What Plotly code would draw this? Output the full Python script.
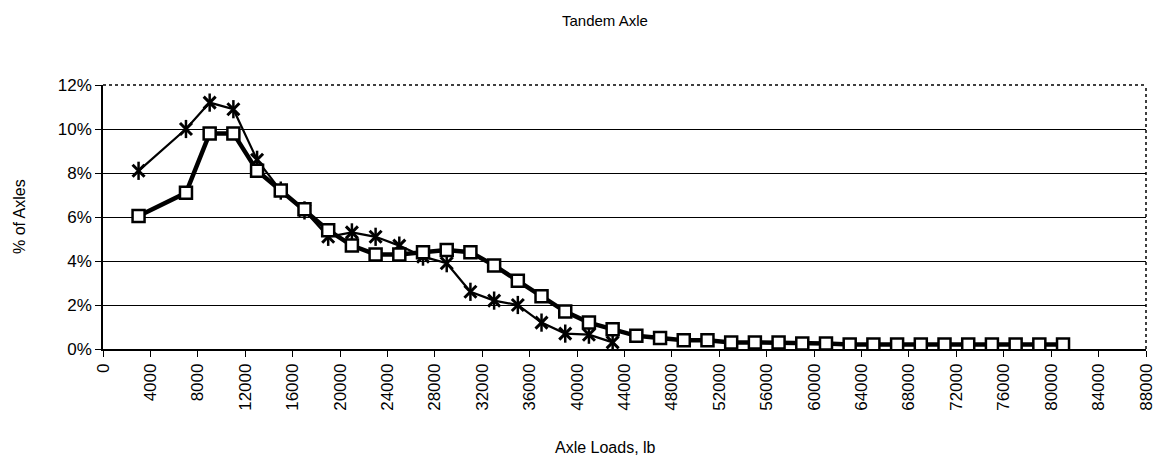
import plotly.graph_objects as go

# Data (percent of axles)
x_star = [3000, 7000, 9000, 11000, 13000, 15000, 17000, 19000, 21000, 23000,
          25000, 27000, 29000, 31000, 33000, 35000, 37000, 39000, 41000, 43000]
y_star = [8.1, 10.0, 11.2, 10.9, 8.6, 7.2, 6.3, 5.1, 5.3, 5.1,
          4.7, 4.2, 3.9, 2.6, 2.2, 2.0, 1.2, 0.7, 0.65, 0.3]

x_sq = [3000, 7000, 9000, 11000, 13000, 15000, 17000, 19000, 21000, 23000,
        25000, 27000, 29000, 31000, 33000, 35000, 37000, 39000, 41000, 43000,
        45000, 47000, 49000, 51000, 53000, 55000, 57000, 59000, 61000, 63000,
        65000, 67000, 69000, 71000, 73000, 75000, 77000, 79000, 81000]
y_sq = [6.05, 7.1, 9.8, 9.8, 8.1, 7.2, 6.35, 5.4, 4.7, 4.3,
        4.3, 4.4, 4.5, 4.4, 3.8, 3.1, 2.4, 1.7, 1.2, 0.9,
        0.6, 0.5, 0.4, 0.4, 0.3, 0.3, 0.3, 0.25, 0.25, 0.2,
        0.2, 0.2, 0.2, 0.2, 0.2, 0.2, 0.2, 0.2, 0.2]

title_text = "Tandem Axle"
x_title = "Axle Loads, lb"
y_title = "% of Axles"

FONT = "Liberation Sans, Arial, sans-serif"
NARROW = "Liberation Sans Narrow, Liberation Sans, Arial, sans-serif"

fig = go.Figure()

# Star series: line plus 6-ray star (X + vertical bar)
fig.add_trace(go.Scatter(x=x_star, y=y_star, mode="lines",
                         line=dict(color="black", width=2.2), hoverinfo="skip",
                         showlegend=False))
fig.add_trace(go.Scatter(x=x_star, y=y_star, mode="markers",
                         marker=dict(symbol="x-thin-open", size=12, color="black",
                                     line=dict(color="black", width=3)),
                         showlegend=False))
fig.add_trace(go.Scatter(x=x_star, y=y_star, mode="markers",
                         marker=dict(symbol="line-ns-open", size=13, color="black",
                                     line=dict(color="black", width=2.5)),
                         showlegend=False))

# Square series
fig.add_trace(go.Scatter(x=x_sq, y=y_sq, mode="lines+markers",
                         line=dict(color="black", width=4.5),
                         marker=dict(symbol="square", size=12, color="white",
                                     line=dict(color="black", width=2.5)),
                         showlegend=False))

# page body has an 8px default margin, so the figure is offset by 8px
fig.update_layout(
    width=1160, height=453,
    margin=dict(l=95, r=12, t=77, b=112),
    paper_bgcolor="white", plot_bgcolor="white",
    font=dict(family=FONT, color="black"),
    showlegend=False,
)

fig.update_xaxes(
    range=[0, 88000], dtick=4000, tick0=0, tickangle=-90, tickformat="d",
    ticks="outside", ticklen=6, tickcolor="black", tickwidth=1,
    showline=True, linecolor="black", linewidth=1.5, mirror=False,
    showgrid=False, zeroline=False,
    tickfont=dict(size=17, family=FONT),
)
fig.update_yaxes(
    range=[0, 12], dtick=2, tick0=0, ticksuffix="%",
    ticks="outside", ticklen=6, tickcolor="black", tickwidth=1,
    showline=True, linecolor="black", linewidth=1.5,
    showgrid=True, gridcolor="black", gridwidth=1, zeroline=False,
    tickfont=dict(size=17, family=FONT),
)

# dotted top and right border of plot area
fig.add_shape(type="line", xref="paper", yref="paper", x0=0, x1=1, y0=1, y1=1,
              line=dict(color="black", width=1.5, dash="dot"))
fig.add_shape(type="line", xref="paper", yref="paper", x0=1, x1=1, y0=0, y1=1,
              line=dict(color="black", width=1.5, dash="dot"))

fig.add_annotation(text=title_text, xref="paper", yref="paper",
                   x=0.4815, y=1, yshift=65, showarrow=False,
                   font=dict(size=15, family=NARROW), xanchor="center", yanchor="middle")
fig.add_annotation(text=x_title, xref="paper", yref="paper",
                   x=0.4815, y=0, yshift=-98, showarrow=False,
                   font=dict(size=16, family=NARROW), xanchor="center", yanchor="middle")
fig.add_annotation(text=y_title, xref="paper", yref="paper",
                   x=0, xshift=-84, y=0.5, textangle=-90, showarrow=False,
                   font=dict(size=16, family=NARROW), xanchor="center", yanchor="middle")

fig.write_html("out.html")
